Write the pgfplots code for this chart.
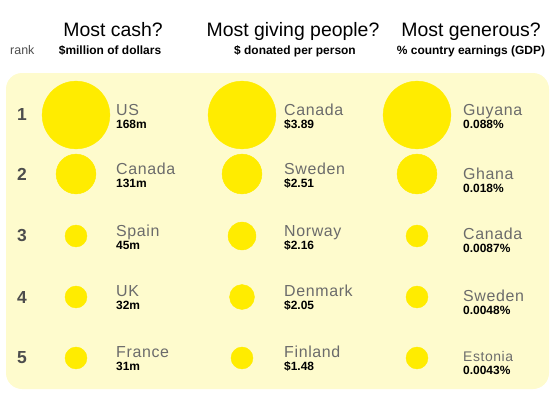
\documentclass[border=0pt]{standalone}
\usepackage{pgfplots}
\pgfplotsset{compat=1.18}
\usepackage{pgfplotstable}
\usepackage{fontspec}
\setmainfont{Liberation Sans}
\newfontfamily\namefont[LetterSpace=4]{Liberation Sans}
\definecolor{bub}{HTML}{FFEC00}
\definecolor{bgc}{HTML}{FEFBCD}
\definecolor{namec}{HTML}{6B6B6B}
\definecolor{rankc}{HTML}{4D4D4D}

% x = column centre, y = row centre, r = bubble radius, v = value
\pgfplotstableread{
x y r v
76 115 34 168
76 174 20 131
76 236 11 45
76 297 11 32
76 358 11 31
}\cashtab
\pgfplotstableread{
x y r v
242 115 34 3.89
242 174 20 2.51
242 236 14 2.16
242 297 12.5 2.05
242 358 11 1.48
}\persontab
\pgfplotstableread{
x y r v
417 115 34 0.088
417 174 20 0.018
417 236 11 0.0087
417 297 11 0.0048
417 358 11 0.0043
}\gdptab

\newcommand\lab[3][16]{\vtop{\baselineskip=13bp\lineskiplimit=-30pt
  \hbox{\color{namec}\namefont\fontsize{#1}{#1}\selectfont #2}
  \hbox{\color{black}\bfseries\fontsize{12}{12}\selectfont #3}}}

\pgfplotsset{bubble/.style={scatter, only marks, mark=*,
  scatter/use mapped color={draw=bub,fill=bub},
  visualization depends on={\thisrow{r}\as\rad},
  scatter/@pre marker code/.append style={/tikz/mark size=\rad}}}

\begin{document}
\begin{tikzpicture}
\begin{axis}[scale only axis, width=553bp, height=394bp,
  xmin=0, xmax=553, ymin=0, ymax=394, y dir=reverse,
  hide axis, clip=false]
\path (axis cs:0,0) rectangle (axis cs:553,394);
\fill[bgc, rounded corners=16bp] (axis cs:6,73) rectangle (axis cs:549,389);
\addplot[bubble] table[x=x,y=y]{\cashtab};
\addplot[bubble] table[x=x,y=y]{\persontab};
\addplot[bubble] table[x=x,y=y]{\gdptab};

% headers
\begin{scope}[every node/.style={inner sep=0pt, anchor=base}]
\node at (axis cs:113,36) {\fontsize{19.5}{19.5}\selectfont Most cash?};
\node at (axis cs:293,36) {\fontsize{19.5}{19.5}\selectfont Most giving people?};
\node at (axis cs:471,36) {\fontsize{19.5}{19.5}\selectfont Most generous?};
\node at (axis cs:110,54) {\bfseries\fontsize{12}{12}\selectfont \$million of dollars};
\node at (axis cs:295,54) {\bfseries\fontsize{12}{12}\selectfont \$ donated per person};
\node at (axis cs:471,54) {\bfseries\fontsize{12}{12}\selectfont \% country earnings (GDP)};
\node[anchor=base west] at (axis cs:10,54) {\color{rankc}\fontsize{12.5}{12.5}\selectfont rank};
\end{scope}

% ranks
\begin{scope}[every node/.style={inner sep=0pt, text=rankc, font=\bfseries\fontsize{17.5}{17.5}\selectfont}]
\node at (axis cs:22,115) {1};
\node at (axis cs:22,174) {2};
\node at (axis cs:22,236) {3};
\node at (axis cs:22,297) {4};
\node at (axis cs:22,358) {5};
\end{scope}

% labels
\begin{scope}[every node/.style={inner sep=0pt, anchor=base west}]
\node at (axis cs:116,115) {\lab{US}{168m}};
\node at (axis cs:116,174) {\lab{Canada}{131m}};
\node at (axis cs:116,236) {\lab{Spain}{45m}};
\node at (axis cs:116,296) {\lab{UK}{32m}};
\node at (axis cs:116,357.5) {\lab{France}{31m}};
\node at (axis cs:284,115) {\lab{Canada}{\$3.89}};
\node at (axis cs:284,174) {\lab{Sweden}{\$2.51}};
\node at (axis cs:284,236) {\lab{Norway}{\$2.16}};
\node at (axis cs:284,296.5) {\lab{Denmark}{\$2.05}};
\node at (axis cs:284,357.5) {\lab{Finland}{\$1.48}};
\node at (axis cs:463,115) {\lab{Guyana}{0.088\%}};
\node at (axis cs:463,179) {\lab{Ghana}{0.018\%}};
\node at (axis cs:463,239.5) {\lab{Canada}{0.0087\%}};
\node at (axis cs:463,301.5) {\lab{Sweden}{0.0048\%}};
\node at (axis cs:463,361.5) {\lab[14]{Estonia}{0.0043\%}};
\end{scope}
\end{axis}
\end{tikzpicture}
\end{document}
